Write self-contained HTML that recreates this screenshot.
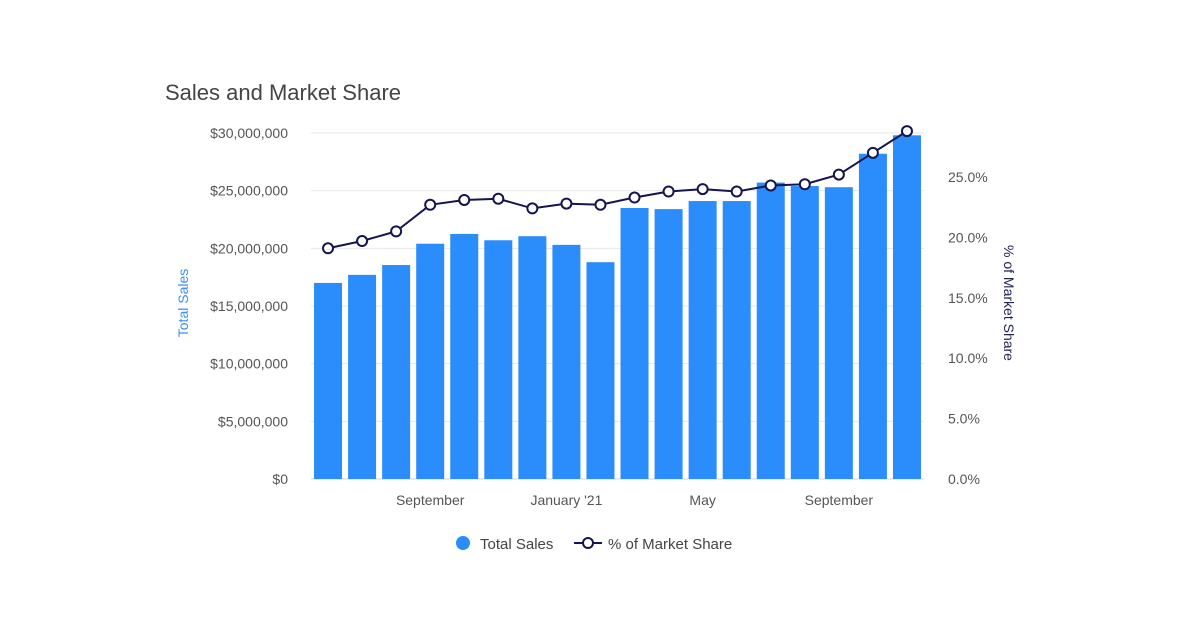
<!DOCTYPE html>
<html><head><meta charset="utf-8"><style>
body{margin:0;background:#fff;font-family:"Liberation Sans",sans-serif}
svg text{font-family:"Liberation Sans",sans-serif}
</style></head><body>
<svg width="1193" height="633" viewBox="0 0 1193 633">
<text x="165" y="100" font-size="22" fill="#444">Sales and Market Share</text>
<g id="grid"></g><g id="bars"></g><g id="line"></g><g id="axes"></g>
<text transform="translate(188,303) rotate(-90)" text-anchor="middle" font-size="14" fill="#3a8ef6">Total Sales</text>
<text transform="translate(1004,303) rotate(90)" text-anchor="middle" font-size="14" fill="#222255">% of Market Share</text>
<g>
<g><circle cx="463" cy="543" r="7" fill="#2b8cfb"/><text x="480" y="549" font-size="15" fill="#444">Total Sales</text></g>
<g><line x1="574" y1="543" x2="602" y2="543" stroke="#14144f" stroke-width="2"/><circle cx="588" cy="543" r="5" fill="#fff" stroke="#14144f" stroke-width="2"/><text x="608" y="549" font-size="15" fill="#444">% of Market Share</text></g>
</g>
</svg>
<script>
const months=["Jul","Aug","September","Oct","Nov","Dec","January '21","Feb","Mar","Apr","May","Jun","Jul","Aug","September","Oct","Nov","Dec"];
const shownLabels=["","","","September","","","","January '21","","","","May","","","","September","",""];
const sales=[17.0,17.7,18.55,20.4,21.25,20.7,21.05,20.3,18.8,23.5,23.4,24.1,24.1,25.7,25.4,25.3,28.2,29.8];
const share=[19.1,19.7,20.5,22.7,23.1,23.2,22.4,22.8,22.7,23.3,23.8,24.0,23.8,24.3,24.4,25.2,27.0,28.8];
const leftTicks=["$0","$5,000,000","$10,000,000","$15,000,000","$20,000,000","$25,000,000","$30,000,000"];
const rightTicks=["0.0%","5.0%","10.0%","15.0%","20.0%","25.0%"];
const NS="http://www.w3.org/2000/svg";
const x0=311,x1=924,yb=479;
const step=(x1-x0)/sales.length;
const xc=i=>x0+step*(i+0.5);
const yL=v=>yb-v*(346/30);
const yR=v=>yb-v*12.08;
function mk(t,a,p){const e=document.createElementNS(NS,t);for(const k in a)e.setAttribute(k,a[k]);p.appendChild(e);return e;}
const grid=document.getElementById('grid'),bars=document.getElementById('bars'),line=document.getElementById('line'),axes=document.getElementById('axes');
leftTicks.forEach((t,i)=>{const y=yL(i*5);
 const g=mk('line',{x1:x0,x2:x1,y1:y,y2:y,stroke:i==0?'#ccd6eb':'#e6e6e6','stroke-width':1},grid);
 
 
 const tx=mk('text',{x:288,y:y+5,'text-anchor':'end','font-size':14,fill:'#555'},axes);tx.textContent=t;
 
 
});
rightTicks.forEach((t,i)=>{const y=yR(i*5);
 const tx=mk('text',{x:948,y:y+5,'font-size':14,fill:'#555'},axes);tx.textContent=t;
 
 
});
sales.forEach((v,i)=>{
 const r=mk('rect',{x:xc(i)-14,y:yL(v),width:28,height:yb-yL(v),fill:'#2b8cfb'},bars);
 
 
 if(shownLabels[i]){const tx=mk('text',{x:xc(i),y:505,'text-anchor':'middle','font-size':14,fill:'#555'},axes);tx.textContent=shownLabels[i];
 
 }
});
const pl=mk('polyline',{points:share.map((v,i)=>xc(i)+','+yR(v)).join(' '),fill:'none',stroke:'#14144f','stroke-width':2},line);


share.forEach((v,i)=>{const c=mk('circle',{cx:xc(i),cy:yR(v),r:5,fill:'#fff',stroke:'#14144f','stroke-width':2},line);
 
 });
</script>
</body></html>
